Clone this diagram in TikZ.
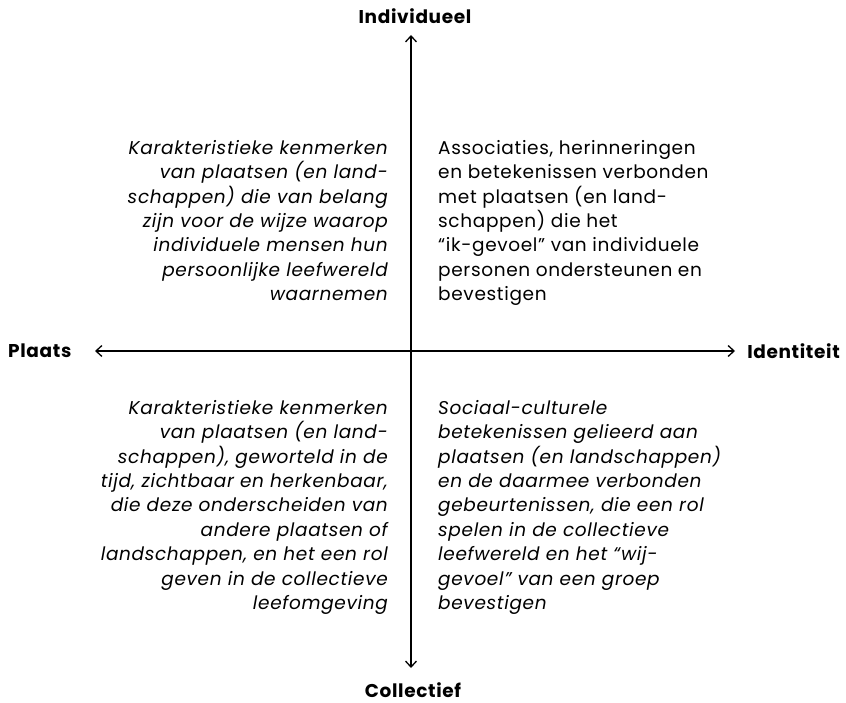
\documentclass[tikz,border=0pt]{standalone}
\usepackage{fontspec}
\setmainfont[LetterSpace=3.5]{Poppins}
\usetikzlibrary{arrows.meta}
\usetikzlibrary{positioning}
\tikzstyle{quadtext} = [inner sep=0pt, font=\fontsize{18.5}{24.4}\selectfont]
\tikzstyle{axislabel} = [inner sep=0pt, font=\fontsize{18.5}{20}\selectfont\bfseries]
\tikzstyle{axis} = [line width=1.3pt, -{Straight Barb[length=6pt,width=11pt,line width=1.3pt]}]

\begin{document}
\begin{tikzpicture}[x=1pt, y=-1pt]
   \useasboundingbox (0,0) rectangle (846,703);
   % Place axis labels
   \coordinate (o) at (411,351);
   \node [axislabel] (ind) at (415,16) {Individueel};
   \node [axislabel] (col) at (413,690) {Collectief};
   \node [axislabel, anchor=west] (pl) at (8,351) {Plaats};
   \node [axislabel, anchor=east] (id) at (840,351) {Identiteit};
   % Axis ends
   \coordinate (ind-tip) at (411,35);
   \coordinate (col-tip) at (411,668);
   \coordinate (pl-tip) at (95,351);
   \coordinate (id-tip) at (735,351);
   \draw [axis] (o) -- (ind-tip);
   \draw [axis] (o) -- (col-tip);
   \draw [axis] (o) -- (pl-tip);
   \draw [axis] (o) -- (id-tip);
   % Place quadrant texts
   \node [quadtext, anchor=north east, align=right] (lt) at (388,140) {\itshape Karakteristieke kenmerken\\ \itshape van plaatsen (en land-\\ \itshape schappen) die van belang\\ \itshape zijn voor de wijze waarop\\ \itshape individuele mensen hun\\ \itshape persoonlijke leefwereld\\ \itshape waarnemen};
   \node [quadtext, anchor=north west, align=left] (rt) at (438,140) {Associaties, herinneringen\\ en betekenissen verbonden\\ met plaatsen (en land-\\ schappen) die het\\ “ik-gevoel” van individuele\\ personen ondersteunen en\\ bevestigen};
   \node [quadtext, anchor=north east, align=right] (lb) at (388,400) {\itshape Karakteristieke kenmerken\\ \itshape van plaatsen (en land-\\ \itshape schappen), geworteld in de\\ \itshape tijd, zichtbaar en herkenbaar,\\ \itshape die deze onderscheiden van\\ \itshape andere plaatsen of\\ \itshape landschappen, en het een rol\\ \itshape geven in de collectieve\\ \itshape leefomgeving};
   \node [quadtext, anchor=north west, align=left] (rb) at (438,400) {\itshape Sociaal-culturele\\ \itshape betekenissen gelieerd aan\\ \itshape plaatsen (en landschappen)\\ \itshape en de daarmee verbonden\\ \itshape gebeurtenissen, die een rol\\ \itshape spelen in de collectieve\\ \itshape leefwereld en het “wij-\\ \itshape gevoel” van een groep\\ \itshape bevestigen};
\end{tikzpicture}
\end{document}
